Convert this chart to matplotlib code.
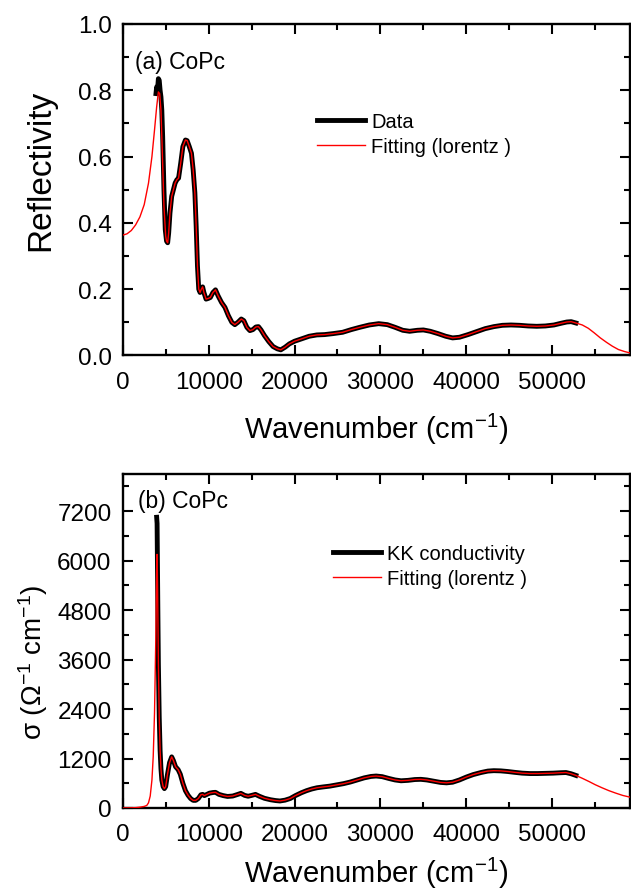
"""
CoPc reflectivity and optical conductivity with Lorentz fits (two panels).
"""
import numpy as np
import matplotlib.pyplot as plt
from matplotlib.ticker import MultipleLocator
import matplotlib as mpl

mpl.rcParams['font.family'] = ['Liberation Sans', 'DejaVu Sans']
mpl.rcParams['mathtext.fontset'] = 'custom'
mpl.rcParams['mathtext.rm'] = 'Liberation Sans'
mpl.rcParams['mathtext.it'] = 'Liberation Sans:italic'

# ---- (a) reflectivity, measured ----
refl_wn = [3870, 3950, 4050, 4150, 4250, 4350, 4450, 4550, 4650, 4800, 4950, 5100,
           5230, 5350, 5500, 5700, 5900, 6100, 6300, 6500, 6750, 7000, 7300, 7500,
           7750, 8000, 8200, 8400, 8550, 8700, 8850, 9000, 9150, 9300, 9450, 9700,
           9950, 10200, 10500, 10800, 11100, 11500, 11900, 12300, 12700, 13050, 13400,
           13800, 14100, 14450, 14800, 15150, 15500, 15800, 16100, 16500, 17000, 17500,
           18000, 18400, 18900, 19400, 20000, 20800, 21700, 22600, 23500, 24500, 25600,
           26600, 27600, 28700, 29800, 30800, 31700, 32600, 33400, 34300, 35000, 35800,
           36700, 37600, 38400, 39200, 40200, 41200, 42200, 43200, 44200, 45200, 46200,
           47200, 48200, 49200, 50200, 51000, 51700, 52200, 52750]
refl_R = [0.79, 0.81, 0.80, 0.835, 0.83, 0.80, 0.78, 0.74, 0.66, 0.50, 0.38, 0.345,
          0.34, 0.37, 0.43, 0.48, 0.50, 0.52, 0.53, 0.535, 0.58, 0.63, 0.65, 0.648,
          0.63, 0.61, 0.56, 0.49, 0.39, 0.27, 0.20, 0.19, 0.20, 0.207, 0.19, 0.17,
          0.172, 0.175, 0.19, 0.198, 0.18, 0.16, 0.145, 0.12, 0.10, 0.093, 0.10,
          0.11, 0.105, 0.085, 0.075, 0.078, 0.086, 0.087, 0.077, 0.060, 0.042, 0.027,
          0.020, 0.017, 0.025, 0.035, 0.043, 0.050, 0.058, 0.062, 0.063, 0.066, 0.070,
          0.078, 0.085, 0.092, 0.096, 0.093, 0.085, 0.076, 0.073, 0.076, 0.077, 0.073,
          0.066, 0.058, 0.053, 0.055, 0.063, 0.072, 0.081, 0.087, 0.091, 0.092, 0.091,
          0.089, 0.088, 0.089, 0.092, 0.097, 0.101, 0.102, 0.098]

# ---- (a) Lorentz fit: low-frequency wing + peak, then follows data, then high wing ----
fitR_lo_wn = [0, 500, 1000, 1500, 2000, 2500, 3000, 3400, 3700, 3950, 4150, 4300,
              4450, 4600, 4800, 5000]
fitR_lo = [0.363, 0.367, 0.377, 0.394, 0.418, 0.455, 0.52, 0.60, 0.68, 0.75, 0.795,
           0.79, 0.74, 0.62, 0.45, 0.36]
fitR_hi_wn = [53500, 54200, 54900, 55600, 56300, 57000, 57700, 58400, 59000]
fitR_hi = [0.092, 0.082, 0.068, 0.053, 0.040, 0.028, 0.018, 0.012, 0.008]

# ---- (b) KK optical conductivity ----
cond_wn = [3950, 4000, 4080, 4150, 4250, 4350, 4450, 4550, 4700, 4850, 5000, 5200,
           5450, 5700, 5900, 6150, 6450, 6700, 7000, 7300, 7600, 7900, 8200, 8500,
           8800, 9100, 9300, 9500, 9800, 10100, 10500, 10800, 11200, 11700, 12200,
           12800, 13400, 13750, 14200, 14600, 15000, 15450, 15900, 16500, 17200, 17800,
           18300, 18900, 19500, 20100, 20800, 21400, 22000, 22600, 23300, 24100, 24900,
           25700, 26500, 27300, 28100, 28900, 29500, 30200, 31000, 31700, 32400, 33200,
           34000, 34700, 35400, 36200, 37000, 37700, 38400, 39200, 40000, 40800, 41700,
           42500, 43200, 44000, 44800, 45600, 46500, 47400, 48300, 49200, 50100, 51000,
           51600, 52200, 52750]
cond_s = [7050, 6900, 5000, 3500, 2200, 1400, 950, 680, 520, 470, 520, 800,
          1100, 1240, 1150, 1000, 930, 820, 600, 420, 310, 230, 185, 185,
          230, 320, 330, 300, 330, 360, 375, 380, 330, 300, 280,
          290, 330, 355, 305, 285, 305, 330, 285, 235, 200, 180,
          170, 190, 230, 300, 370, 420, 460, 490, 510, 530, 560,
          590, 630, 680, 730, 765, 775, 760, 715, 680, 660, 670,
          690, 695, 680, 650, 620, 610, 625, 680, 750, 810, 860,
          895, 905, 900, 885, 865, 845, 835, 835, 840, 845, 855,
          860, 830, 790]

# ---- (b) Lorentz fit ----
fitS_lo_wn = [0, 1000, 1500, 2000, 2500, 2800, 3000, 3200, 3400, 3550, 3700, 3850,
              3950, 4000, 4060, 4150]
fitS_lo = [0, 4, 8, 20, 38, 62, 125, 290, 680, 1250, 2300, 4100,
           5800, 6150, 5300, 3500]
fitS_hi_wn = [53500, 54300, 55000, 55800, 56600, 57400, 58200, 59000]
fitS_hi = [720, 640, 565, 490, 420, 360, 305, 265]


def fit_curve(lo_wn, lo_y, wn, y, hi_wn, hi_y):
    wn = np.asarray(wn)
    y = np.asarray(y)
    keep = wn > lo_wn[-1]
    return (np.concatenate([lo_wn, wn[keep], hi_wn]),
            np.concatenate([lo_y, y[keep], hi_y]))


def style_axes(ax, ymax, ymajor, yminor, xpad):
    ax.set_xlim(0, 59000)
    ax.set_ylim(0, ymax)
    ax.xaxis.set_major_locator(MultipleLocator(10000))
    ax.xaxis.set_minor_locator(MultipleLocator(5000))
    ax.yaxis.set_major_locator(MultipleLocator(ymajor))
    ax.yaxis.set_minor_locator(MultipleLocator(yminor))
    ax.tick_params(which='both', direction='in', top=True, right=True,
                   labelsize=17.5, width=1.5, pad=8)
    ax.tick_params(axis='x', which='both', pad=11)
    ax.tick_params(which='major', length=7)
    ax.tick_params(which='minor', length=4.5)
    for s in ax.spines.values():
        s.set_linewidth(1.7)
    ax.set_xlabel('Wavenumber (cm$^{-1}$)', fontsize=21, labelpad=xpad)


fig = plt.figure(figsize=(6.31, 8.95), dpi=100)
fig.patch.set_facecolor('white')

# panel (a)
ax1 = fig.add_axes([0.1945, 0.6017, 0.8032, 0.3704])
fx, fy = fit_curve(fitR_lo_wn, fitR_lo, refl_wn, refl_R, fitR_hi_wn, fitR_hi)
ax1.plot(refl_wn, refl_R, color='black', lw=3.5, label='Data', zorder=2)
ax1.plot(fx, fy, color='red', lw=1.0, label='Fitting (lorentz )', zorder=3)
style_axes(ax1, 1.0, 0.2, 0.1, 13)
ax1.yaxis.set_major_formatter(mpl.ticker.FormatStrFormatter('%.1f'))
ax1.set_ylabel('Reflectivity', fontsize=24)
ax1.yaxis.set_label_coords(-0.132, 0.56)
ax1.text(0.025, 0.888, '(a) CoPc', transform=ax1.transAxes, fontsize=16.5,
         ha='left', va='center')
ax1.legend(loc='upper left', bbox_to_anchor=(0.383, 0.735), frameon=False,
           fontsize=14.5, handlelength=2.4, handletextpad=0.3, labelspacing=0.3,
           borderpad=0, borderaxespad=0)

# panel (b)
ax2 = fig.add_axes([0.1945, 0.0961, 0.8032, 0.3732])
gx, gy = fit_curve(fitS_lo_wn, fitS_lo, cond_wn, cond_s, fitS_hi_wn, fitS_hi)
ax2.plot(cond_wn, cond_s, color='black', lw=3.5, label='KK conductivity', zorder=2)
ax2.plot(gx, gy, color='red', lw=1.0, label='Fitting (lorentz )', zorder=3)
style_axes(ax2, 8100, 1200, 600, 7)
ax2.set_ylabel('σ (Ω$^{-1}$ cm$^{-1}$)', fontsize=20)
ax2.yaxis.set_label_coords(-0.143, 0.44)
ax2.text(0.03, 0.922, '(b) CoPc', transform=ax2.transAxes, fontsize=16.5,
         ha='left', va='center')
ax2.legend(loc='upper left', bbox_to_anchor=(0.415, 0.79), frameon=False,
           fontsize=14.5, handlelength=2.4, handletextpad=0.3, labelspacing=0.3,
           borderpad=0, borderaxespad=0)

plt.savefig('out.png', dpi=100, facecolor='white')
plt.close()
